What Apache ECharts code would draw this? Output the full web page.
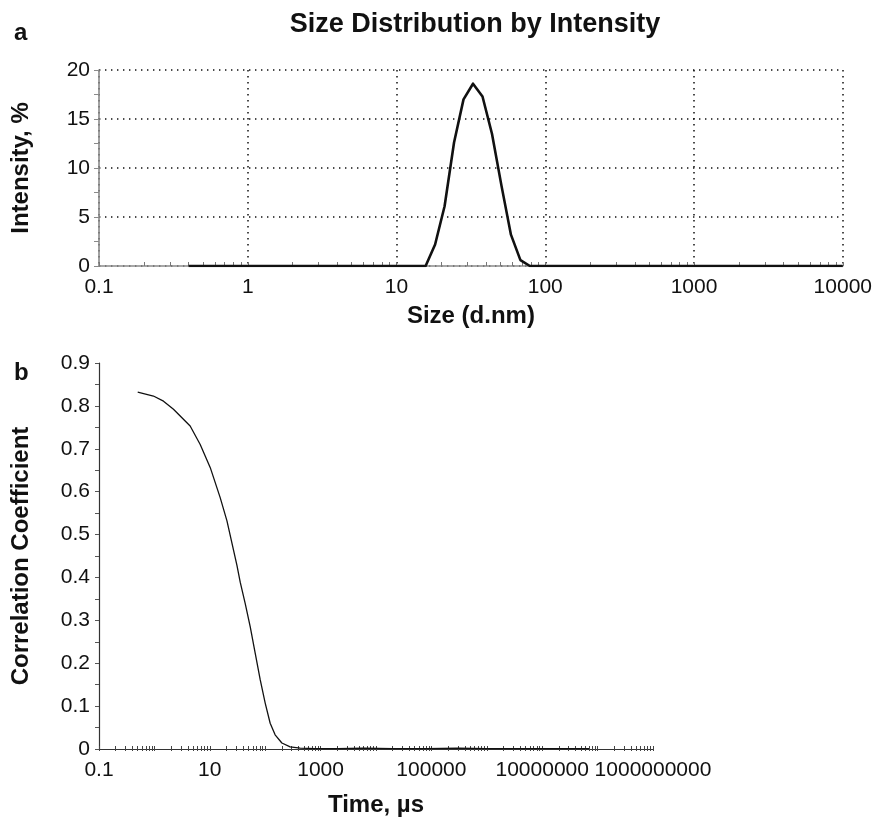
<!DOCTYPE html>
<html>
<head>
<meta charset="utf-8">
<script src="https://cdn.jsdelivr.net/npm/echarts@6/dist/echarts.min.js"></script>
<style>
  html, body { margin: 0; padding: 0; background: #fff; }
  #chart { width: 875px; height: 820px; }
</style>
</head>
<body>
<div id="chart"></div>
<script>
// Panel a: size classes (d.nm) and intensity distribution (%)
const sizeClasses = [0.4, 0.4632, 0.5365, 0.6213, 0.7195, 0.8332, 0.9649, 1.117, 1.294, 1.499,
  1.736, 2.01, 2.328, 2.696, 3.122, 3.615, 4.187, 4.849, 5.615, 6.503,
  7.531, 8.721, 10.1, 11.7, 13.54, 15.69, 18.17, 21.04, 24.36, 28.21,
  32.67, 37.84, 43.82, 50.75, 58.77, 68.06, 78.82, 91.28, 105.7, 122.4,
  141.8, 164.2, 190.1, 220.2, 255, 295.3, 342, 396.1, 458.7, 531.2,
  615.1, 712.4, 825, 955.4, 1106, 1281, 1484, 1718, 1990, 2305,
  2669, 3091, 3580, 4145, 4801, 5560, 6439, 7456, 8635, 10000];
const intensity = [0, 0, 0, 0, 0, 0, 0, 0, 0, 0,
  0, 0, 0, 0, 0, 0, 0, 0, 0, 0,
  0, 0, 0, 0, 0, 0, 2.2, 6.1, 12.6, 17.0,
  18.6, 17.3, 13.5, 8.2, 3.2, 0.6, 0, 0, 0, 0,
  0, 0, 0, 0, 0, 0, 0, 0, 0, 0,
  0, 0, 0, 0, 0, 0, 0, 0, 0, 0,
  0, 0, 0, 0, 0, 0, 0, 0, 0, 0];

// Panel b: correlogram, delay time (µs) and correlation coefficient
const delayTimes = [0.5, 0.96, 1.46, 2.21, 4.42, 6.71, 10.2, 15.4, 20.4, 30.9,
  35.4, 43.6, 53.7, 66.1, 81.4, 100, 123, 151, 200, 282,
  427, 800, 2000, 6000, 20000, 80000, 300000, 1e6, 5e6, 2e7, 7e7];
const correlation = [0.832, 0.823, 0.811, 0.792, 0.753, 0.710, 0.656, 0.586, 0.532, 0.428,
  0.389, 0.339, 0.285, 0.223, 0.161, 0.107, 0.060, 0.033, 0.014, 0.005,
  0.002, 0.001, 0.001, 0.002, 0.001, 0.001, 0.002, 0.001, 0.001, 0.001, 0.001];

// Tick labels
const intensityTicks = [0, 5, 10, 15, 20];
const correlationTicks = [0, 0.1, 0.2, 0.3, 0.4, 0.5, 0.6, 0.7, 0.8, 0.9];
const timeTicks = [0.1, 10, 1000, 100000, 10000000, 1000000000];

// Log-axis tick marks at 1..9 times each decade
function decadeTicks(fromExp, toExp) {
  const out = [];
  for (let e = fromExp; e < toExp; e++) {
    for (let m = 1; m <= 9; m++) out.push(Number((m * Math.pow(10, e)).toPrecision(6)));
  }
  out.push(Number(Math.pow(10, toExp).toPrecision(6)));
  return out;
}

const FONT = 'Liberation Sans, Arial, Helvetica, sans-serif';
const TICK_FONT = { fontFamily: FONT, fontSize: 21, color: '#111' };
const NAME_FONT = { fontFamily: FONT, fontSize: 24, fontWeight: 'bold', color: '#111' };
const dotted = { color: '#111', width: 1.5, type: [1.4, 4.6] };
const fmtNum = v => String(Number(Number(v).toPrecision(6)));

const chart = echarts.init(document.getElementById('chart'), null, { renderer: 'canvas' });

const option = {
  animation: false,
  backgroundColor: '#fff',
  title: [
    { text: 'Size Distribution by Intensity', left: 470, top: 6, textAlign: 'center',
      textStyle: { fontFamily: FONT, fontSize: 27, fontWeight: 'bold', color: '#111' } },
    { text: 'a', left: 9, top: 16, textStyle: { fontFamily: FONT, fontSize: 24, fontWeight: 'bold', color: '#111' } },
    { text: 'b', left: 9, top: 356, textStyle: { fontFamily: FONT, fontSize: 24, fontWeight: 'bold', color: '#111' } }
  ],
  grid: [
    { left: 99, top: 70, width: 745, height: 196 },
    { left: 99, top: 363, width: 554, height: 386 }
  ],
  xAxis: [
    { // panel a: labels and dotted decade lines
      type: 'log', logBase: 10, gridIndex: 0, position: 'bottom', min: 0.1, max: 10000,
      name: 'Size (d.nm)', nameLocation: 'middle', nameGap: 38, nameTextStyle: NAME_FONT,
      axisLine: { lineStyle: { color: '#8a8a8a', width: 1.6 } },
      axisTick: { show: false },
      axisLabel: Object.assign({ margin: 11, formatter: fmtNum }, TICK_FONT),
      splitLine: { show: true, lineStyle: dotted }
    },
    { // panel a: log tick marks
      type: 'log', logBase: 10, gridIndex: 0, position: 'bottom', offset: 0, min: 0.1, max: 10000,
      axisLine: { show: false }, axisLabel: { show: false }, splitLine: { show: false },
      axisTick: { show: true, inside: true, length: 4, customValues: decadeTicks(-1, 4),
        lineStyle: { color: '#777', width: 1 } }
    },
    { // panel b: labels every second decade
      type: 'log', logBase: 10, gridIndex: 1, position: 'bottom', min: 0.1, max: 1e9,
      name: 'Time, µs', nameLocation: 'middle', nameGap: 44, nameTextStyle: NAME_FONT,
      axisLine: { lineStyle: { color: '#333', width: 1.2 } },
      axisTick: { show: false },
      axisLabel: Object.assign({ margin: 11, formatter: fmtNum, customValues: timeTicks }, TICK_FONT),
      splitLine: { show: false }
    },
    { // panel b: tick marks above the axis
      type: 'log', logBase: 10, gridIndex: 1, position: 'bottom', offset: 0, min: 0.1, max: 1e9,
      axisLine: { show: false }, axisLabel: { show: false }, splitLine: { show: false },
      axisTick: { show: true, inside: true, length: 3, customValues: decadeTicks(-1, 9),
        lineStyle: { color: '#444', width: 1 } }
    },
    { // panel b: tick marks below the axis
      type: 'log', logBase: 10, gridIndex: 1, position: 'bottom', offset: 0, min: 0.1, max: 1e9,
      axisLine: { show: false }, axisLabel: { show: false }, splitLine: { show: false },
      axisTick: { show: true, inside: false, length: 2, customValues: decadeTicks(-1, 9),
        lineStyle: { color: '#444', width: 1 } }
    }
  ],
  yAxis: [
    {
      type: 'value', gridIndex: 0, min: intensityTicks[0], max: intensityTicks[intensityTicks.length - 1], interval: 5,
      name: 'Intensity, %', nameLocation: 'middle', nameGap: 66, nameTextStyle: NAME_FONT,
      axisLine: { show: true, lineStyle: { color: '#8a8a8a', width: 1.6 } },
      axisTick: { show: true, length: 5, lineStyle: { color: '#8a8a8a' } },
      minorTick: { show: true, splitNumber: 2, length: 5, lineStyle: { color: '#8a8a8a' } },
      axisLabel: Object.assign({ margin: 9 }, TICK_FONT),
      splitLine: { show: true, lineStyle: dotted }
    },
    {
      type: 'value', gridIndex: 1, min: correlationTicks[0], max: correlationTicks[correlationTicks.length - 1], interval: 0.1,
      name: 'Correlation Coefficient', nameLocation: 'middle', nameGap: 66, nameTextStyle: NAME_FONT,
      axisLine: { show: true, lineStyle: { color: '#333', width: 1.2 } },
      axisTick: { show: true, length: 4, lineStyle: { color: '#555' } },
      minorTick: { show: true, splitNumber: 2, length: 4, lineStyle: { color: '#555' } },
      axisLabel: Object.assign({ margin: 9, formatter: v => (v === 0 ? '0' : Number(v).toFixed(1)) }, TICK_FONT),
      splitLine: { show: false }
    }
  ],
  series: [
    {
      type: 'line', xAxisIndex: 0, yAxisIndex: 0,
      data: sizeClasses.map((s, i) => [s, intensity[i]]),
      showSymbol: false, symbol: 'none',
      lineStyle: { color: '#111', width: 2.6, join: 'round' }
    },
    {
      type: 'line', xAxisIndex: 2, yAxisIndex: 1,
      data: delayTimes.map((t, i) => [t, correlation[i]]),
      showSymbol: false, symbol: 'none', smooth: false,
      lineStyle: { color: '#111', width: 1.3, join: 'round' }
    }
  ]
};

chart.setOption(option);
</script>
</body>
</html>
